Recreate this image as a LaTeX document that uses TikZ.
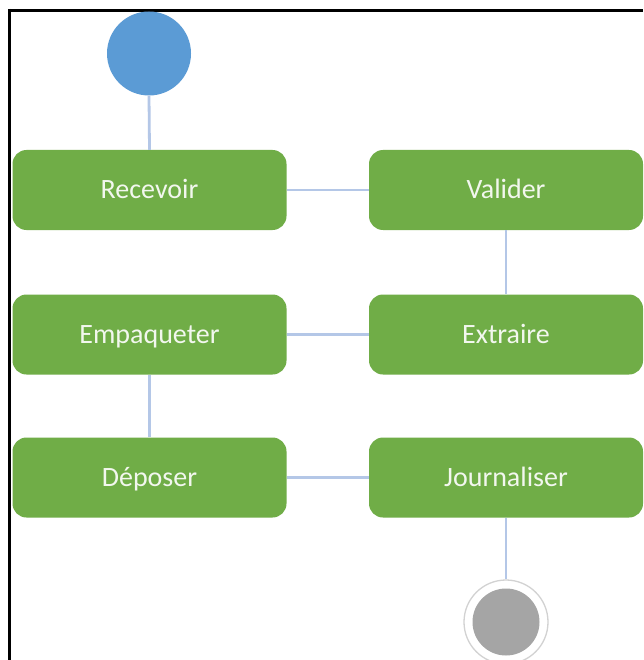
\documentclass[tikz,border=0pt]{standalone}
\usepackage{fontspec}
\setmainfont{Carlito}
\definecolor{boxgreen}{HTML}{70AD47}
\definecolor{startblue}{HTML}{5B9BD5}
\definecolor{linkblue}{HTML}{B4C7E7}
\definecolor{endgray}{HTML}{A5A5A5}
\definecolor{ringgray}{HTML}{D2D2D2}
\definecolor{textwhite}{HTML}{F2F7EE}
\tikzset{
  stepbox/.style={rectangle, rounded corners=14pt, fill=boxgreen, draw=none,
    minimum width=274pt, minimum height=80pt, inner sep=0pt,
    text height=17.5pt, text depth=0pt,
    text=textwhite, font=\fontsize{28}{32}\selectfont},
  link/.style={draw=linkblue, line width=2.8pt},
  startnode/.style={circle, fill=startblue, minimum size=84pt, inner sep=0pt},
  endnode/.style={circle, draw=ringgray, line width=1.3pt, fill=white, minimum size=84pt, inner sep=0pt},
  framebar/.style={line width=3pt, black}
}
\begin{document}
\begin{tikzpicture}[x=1pt,y=-1pt]
\useasboundingbox (0,0) rectangle (643,660);
\fill[white] (0,0) rectangle (643,660);
% frame (top and left only)
\draw[framebar] (8,10.5) -- (643,10.5);
\draw[framebar] (9.5,9) -- (9.5,660);
% nodes
\node[startnode] (start) at (149,53.5) {};
\node[stepbox] (recevoir) at (149.5,190) {Recevoir};
\node[stepbox] (valider) at (506,190) {Valider};
\node[stepbox] (empaqueter) at (149.5,334.5) {Empaqueter};
\node[stepbox] (extraire) at (506,334.5) {Extraire};
\node[stepbox] (deposer) at (149.5,477.5) {Déposer};
\node[stepbox] (journaliser) at (506,477.5) {Journaliser};
\node[endnode] (end) at (506,622) {};
\fill[endgray] (end.center) circle (33.5);
% connectors
\draw[link] (start.south) -- (recevoir.north);
\draw[link] (recevoir.east) -- (valider.west);
\draw[link] (valider.south) -- (extraire.north);
\draw[link] (extraire.west) -- (empaqueter.east);
\draw[link] (empaqueter.south) -- (deposer.north);
\draw[link] (deposer.east) -- (journaliser.west);
\draw[link] (journaliser.south) -- (end.north);
\end{tikzpicture}
\end{document}
